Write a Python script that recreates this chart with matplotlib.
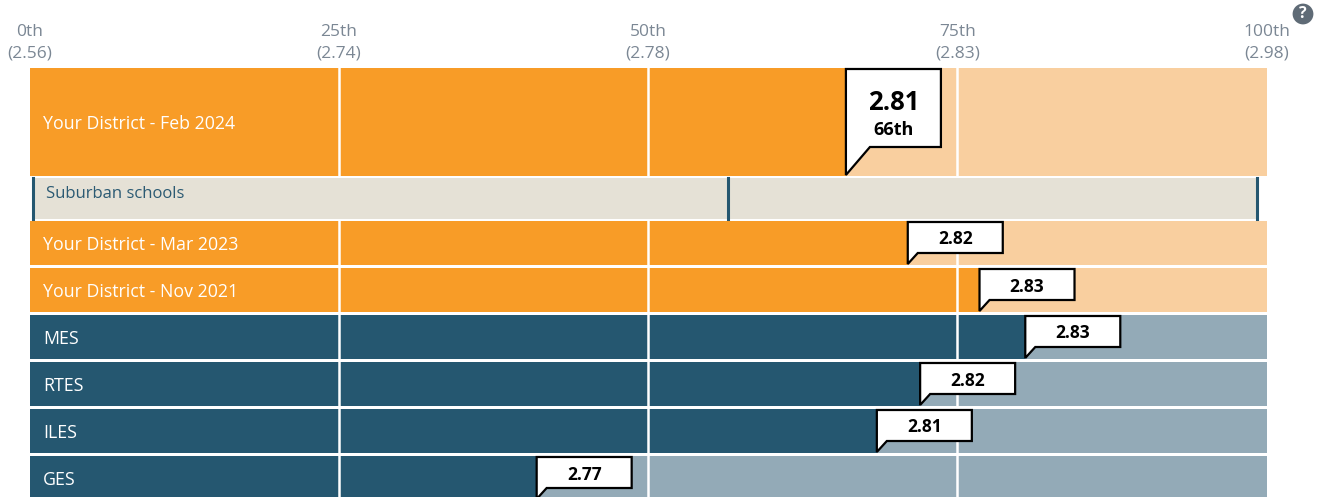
import matplotlib.pyplot as plt
from matplotlib.patches import Rectangle, Polygon

plt.rcParams['font.family'] = ['Open Sans', 'DejaVu Sans']

# Percentile scale and the score at each tick
tick_pcts = [0, 25, 50, 75, 100]
tick_scores = [2.56, 2.74, 2.78, 2.83, 2.98]

# Bar rows
rows = ["Your District - Feb 2024", "Your District - Mar 2023", "Your District - Nov 2021",
        "MES", "RTES", "ILES", "GES"]
row_pcts = [66, 71, 76.8, 80.5, 72, 68.5, 41]
row_scores = [2.81, 2.82, 2.83, 2.83, 2.82, 2.81, 2.77]
row_kind = ["district", "district", "district", "school", "school", "school", "school"]

# Suburban comparison band (min / median / max markers)
suburban_label = "Suburban schools"
suburban_marks = [0.3, 56.5, 99.2]

# Layout (pixels, top down)
row_tops = [68, 221, 268, 315, 362, 409, 456]
row_heights = [108, 44, 44, 44, 44, 44, 44]
sub_top, sub_h = 178, 41

colors = {
    "district": ("#F89C27", "#F9CF9F"),
    "school": ("#255770", "#93AAB7"),
}

W, H = 1322, 497
fig = plt.figure(figsize=(W / 100, H / 100), dpi=100)
x0, xw = 29.5, 1237
ax = fig.add_axes([x0 / W, 0, xw / W, 1])
ax.set_xlim(0, 100)
ax.set_ylim(H, 0)
ax.axis('off')

px = 100 / xw  # pixels -> percentile units

# bars
for lab, p, s, kind, top, h in zip(rows, row_pcts, row_scores, row_kind, row_tops, row_heights):
    dark, light = colors[kind]
    ax.add_patch(Rectangle((0, top), 100, h, color=light, lw=0))
    ax.add_patch(Rectangle((0, top), p, h, color=dark, lw=0))
    for t in tick_pcts[1:-1]:
        ax.plot([t, t], [top, top + h], color='white', lw=1.8, zorder=2)
    ax.text(13.5 * px, top + h / 2 + 2, lab, color='white', fontsize=12.8, va='center', ha='left', zorder=3)

    # callout
    big = (h > 60)
    bw = 95 * px
    if big:
        bt, bb = top + 1, top + 79
        tail = 24
    else:
        bt, bb = top + 1, top + 32
        tail = 10
    tip_y = top + h - 1
    pts = [(p, bt), (p + bw, bt), (p + bw, bb), (p + tail * px, bb), (p, tip_y)]
    ax.add_patch(Polygon(pts, closed=True, facecolor='white', edgecolor='black',
                         lw=1.6, joinstyle='miter', zorder=5))
    cx = p + bw / 2
    if big:
        ax.text(cx, bt + 34, f"{s:.2f}", fontsize=18.5, fontweight='bold', ha='center',
                va='center', zorder=6)
        ax.text(cx, bt + 61, f"{round(p)}th", fontsize=13, fontweight='bold', ha='center',
                va='center', zorder=6)
    else:
        ax.text(cx, (bt + bb) / 2 + 2, f"{s:.2f}", fontsize=12.5, fontweight='bold', ha='center',
                va='center', zorder=6)

# suburban band
ax.add_patch(Rectangle((suburban_marks[0], sub_top), suburban_marks[-1] - suburban_marks[0],
                       sub_h, color='#E5E1D6', lw=0))
for m in suburban_marks:
    ax.plot([m, m], [sub_top, sub_top + sub_h], color='#255770', lw=2.2, zorder=3)
ax.text(17 * px, sub_top + 16, suburban_label, color='#2B5A73', fontsize=12, va='center',
        ha='left', zorder=3)

# tick labels on top
for t, sc in zip(tick_pcts, tick_scores):
    ax.text(t, 32, f"{t}th", color='#7B8794', fontsize=12.5, ha='center', va='center', clip_on=False)
    ax.text(t, 53, f"({sc:.2f})", color='#7B8794', fontsize=12.5, ha='center', va='center', clip_on=False)

# help icon
fig.text(1303 / W, 1 - 14 / H, "?", color='white', fontsize=11.5, fontweight='bold', ha='center',
         va='center', zorder=11,
         bbox=dict(boxstyle='circle,pad=0.15', fc='#5F6B76', ec='none'))

fig.savefig('out.png', dpi=100)
